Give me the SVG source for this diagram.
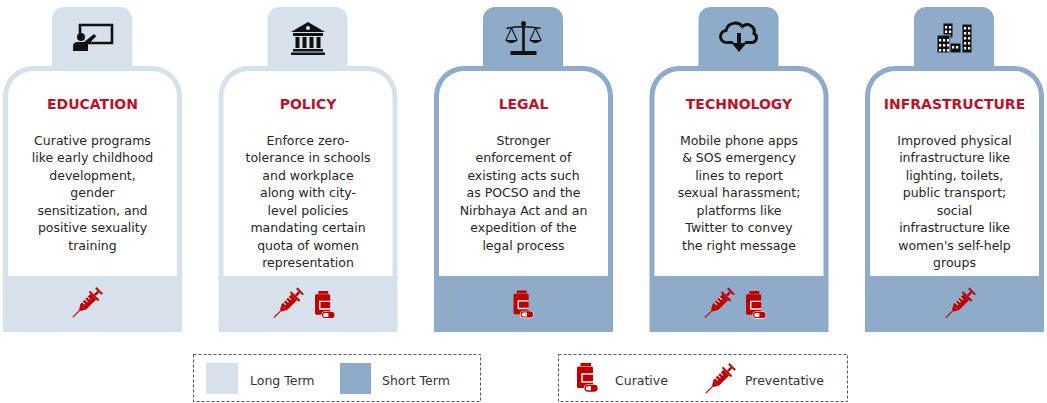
<svg xmlns="http://www.w3.org/2000/svg" xmlns:xlink="http://www.w3.org/1999/xlink" width="1047" height="403" viewBox="0 0 1047 403">
<style>
.lt{fill:#d7e1eb}
.st{fill:#8eacca}
.inner{fill:#ffffff}
.title{font-family:"DejaVu Sans",Verdana,sans-serif;font-size:14px;font-weight:bold;fill:#c0102a;text-anchor:middle}
.body{font-family:"DejaVu Sans",Verdana,sans-serif;font-size:12.5px;fill:#262626;text-anchor:middle}
.leg{font-family:"DejaVu Sans",Verdana,sans-serif;font-size:12.5px;fill:#333333}
.ico{fill:#111111}
.box{fill:none;stroke:#555555;stroke-width:1;stroke-dasharray:3 2}
</style>
<defs>
<path id="outer" d="M0 332 V96 A30 30 0 0 1 30 66 H49 V19 A12 12 0 0 1 61 7 H117 A12 12 0 0 1 129 19 V66 H149 A30 30 0 0 1 179 96 V332 Z"/>
<path id="inner" d="M5 276 V96 A25 25 0 0 1 30 71 H149 A25 25 0 0 1 174 96 V276 Z"/>
<symbol id="syr" viewBox="0 0 30 30" overflow="visible">
<g transform="rotate(-45 15 15)" fill="#c00000">
<rect x="-5" y="14.4" width="10" height="1.2"/>
<polygon points="5,13.8 9,11.5 9,18.5 5,16.2"/>
<rect x="9" y="11" width="15" height="8"/>
<rect x="12" y="11" width="1.2" height="3.5" fill="#ffffff"/>
<rect x="15.5" y="11" width="1.2" height="3.5" fill="#ffffff"/>
<rect x="19" y="11" width="1.2" height="3.5" fill="#ffffff"/>
<rect x="24" y="8.5" width="2" height="13"/>
<rect x="26" y="13.8" width="5" height="2.4"/>
<rect x="31" y="10.5" width="2" height="9"/>
</g>
</symbol>
<symbol id="bot" viewBox="0 0 20 28" overflow="visible">
<rect x="3.5" y="0" width="10.5" height="3" fill="#c00000"/>
<rect x="0" y="3.5" width="16" height="21.5" rx="1.5" fill="#c00000"/>
<path d="M16 11 H5 V19 H16" fill="none" stroke="#ffffff" stroke-width="1.4"/>
<rect x="8" y="22.5" width="12" height="5.5" rx="2.75" fill="#ffffff" stroke="#ffffff" stroke-width="2.4"/>
<rect x="8" y="22.5" width="12" height="5.5" rx="2.75" fill="#ffffff" stroke="#c00000" stroke-width="1.3"/>
<path d="M14 22.5 H17.25 A2.75 2.75 0 0 1 17.25 28 H14 Z" fill="#c00000"/>
</symbol>
</defs>

<g id="node-education" transform="translate(3,0)">
<use href="#outer" class="lt"/>
<use href="#inner" class="inner"/>
<g class="ico" transform="translate(89.5,0)">
<path d="M-12.5 36 V25 H19.5 V43 H-4.5" fill="none" stroke="#111111" stroke-width="2.6"/>
<circle cx="-11.5" cy="37" r="4"/>
<path d="M-19.5 51 V46 Q-19.5 42 -14.5 42 H-8.5 L1.5 34 L3.8 36.3 L-4.5 44.5 V51 Z"/>
</g>
<text class="title" x="89.5" y="109">EDUCATION</text>
<text class="body" x="89.5" y="144.5">Curative programs</text>
<text class="body" x="89.5" y="162">like early childhood</text>
<text class="body" x="89.5" y="179.5">development,</text>
<text class="body" x="89.5" y="197">gender</text>
<text class="body" x="89.5" y="214.5">sensitization, and</text>
<text class="body" x="89.5" y="232">positive sexuality</text>
<text class="body" x="89.5" y="249.5">training</text>
<use href="#syr" x="69" y="288" width="30" height="30"/>
</g>

<g id="node-policy" transform="translate(218.5,0)">
<use href="#outer" class="lt"/>
<use href="#inner" class="inner"/>
<g class="ico" transform="translate(89.5,0)">
<polygon points="-17,32 0,22 17,32"/>
<circle cx="0" cy="28" r="2" fill="#d7e1eb"/>
<rect x="-15" y="33" width="30" height="3"/>
<rect x="-12.5" y="37" width="4" height="11"/>
<rect x="-5.5" y="37" width="4" height="11"/>
<rect x="1.5" y="37" width="4" height="11"/>
<rect x="8.5" y="37" width="4" height="11"/>
<rect x="-15" y="49" width="30" height="2.5"/>
<rect x="-17" y="52.5" width="34" height="2.5"/>
</g>
<text class="title" x="89.5" y="109">POLICY</text>
<text class="body" x="89.5" y="144.5">Enforce zero-</text>
<text class="body" x="89.5" y="162">tolerance in schools</text>
<text class="body" x="89.5" y="179.5">and workplace</text>
<text class="body" x="89.5" y="197">along with city-</text>
<text class="body" x="89.5" y="214.5">level policies</text>
<text class="body" x="89.5" y="232">mandating certain</text>
<text class="body" x="89.5" y="249.5">quota of women</text>
<text class="body" x="89.5" y="267">representation</text>
<use href="#syr" x="54.5" y="288.5" width="30" height="30"/>
<use href="#bot" x="96.5" y="291" width="19" height="26.5"/>
</g>

<g id="node-legal" transform="translate(434,0)">
<use href="#outer" class="st"/>
<use href="#inner" class="inner"/>
<g class="ico" transform="translate(89.5,0)">
<rect x="-1.3" y="22" width="2.6" height="30"/>
<circle cx="0" cy="23.5" r="2.5"/>
<path d="M-17 29 Q0 26 17 29 L17 27.5 Q0 24.5 -17 27.5 Z"/>
<path d="M-12 28 L-17.5 40 M-12 28 L-6.5 40 M12 28 L6.5 40 M12 28 L17.5 40" stroke="#111111" stroke-width="1.1" fill="none"/>
<path d="M-18.5 40 H-5.5 Q-12 46.5 -18.5 40 Z"/>
<path d="M5.5 40 H18.5 Q12 46.5 5.5 40 Z"/>
<rect x="-13" y="51" width="26" height="4"/>
</g>
<text class="title" x="89.5" y="109">LEGAL</text>
<text class="body" x="89.5" y="144.5">Stronger</text>
<text class="body" x="89.5" y="162">enforcement of</text>
<text class="body" x="89.5" y="179.5">existing acts such</text>
<text class="body" x="89.5" y="197">as POCSO and the</text>
<text class="body" x="89.5" y="214.5">Nirbhaya Act and an</text>
<text class="body" x="89.5" y="232">expedition of the</text>
<text class="body" x="89.5" y="249.5">legal process</text>
<use href="#bot" x="79.5" y="290.5" width="19" height="26.5"/>
</g>

<g id="node-technology" transform="translate(649.5,0)">
<use href="#outer" class="st"/>
<use href="#inner" class="inner"/>
<g class="ico" transform="translate(89.5,0)">
<path d="M-7 42.5 H-12 A6 6 0 0 1 -13 30.5 A9.5 9.5 0 0 1 3.5 26.5 A7 7 0 0 1 15 33.5 A4.8 4.8 0 0 1 13 42.5 H7" fill="none" stroke="#111111" stroke-width="3" stroke-linecap="round"/>
<rect x="-2" y="33" width="4" height="11"/>
<polygon points="-7.5,43 7.5,43 0,52"/>
</g>
<text class="title" x="89.5" y="109">TECHNOLOGY</text>
<text class="body" x="89.5" y="144.5">Mobile phone apps</text>
<text class="body" x="89.5" y="162">&amp; SOS emergency</text>
<text class="body" x="89.5" y="179.5">lines to report</text>
<text class="body" x="89.5" y="197">sexual harassment;</text>
<text class="body" x="89.5" y="214.5">platforms like</text>
<text class="body" x="89.5" y="232">Twitter to convey</text>
<text class="body" x="89.5" y="249.5">the right message</text>
<use href="#syr" x="54.5" y="288.5" width="30" height="30"/>
<use href="#bot" x="96.5" y="291" width="19" height="26.5"/>
</g>

<g id="node-infrastructure" transform="translate(865,0)">
<use href="#outer" class="st"/>
<use href="#inner" class="inner"/>
<g class="ico" transform="translate(89.5,0)" stroke="#8eacca" stroke-width="1">
<rect x="-11.5" y="23" width="10" height="15"/>
<rect x="-17.5" y="35" width="13" height="18"/>
<rect x="-4.5" y="43" width="11" height="10"/>
<rect x="7.5" y="24" width="10" height="29"/>
<g fill="#ffffff" stroke="none">
<rect x="-9.5" y="26" width="2.2" height="2.5"/><rect x="-5.5" y="26" width="2.2" height="2.5"/>
<rect x="-9.5" y="30.5" width="2.2" height="2.5"/><rect x="-5.5" y="30.5" width="2.2" height="2.5"/>
<rect x="-15.5" y="39" width="2.2" height="2.5"/><rect x="-11.5" y="39" width="2.2" height="2.5"/><rect x="-7.5" y="39" width="2" height="2.5"/>
<rect x="-15.5" y="44" width="2.2" height="2.5"/><rect x="-11.5" y="44" width="2.2" height="2.5"/><rect x="-7.5" y="44" width="2" height="2.5"/>
<rect x="-15.5" y="49" width="2.2" height="2.5"/><rect x="-11.5" y="49" width="2.2" height="2.5"/><rect x="-7.5" y="49" width="2" height="2.5"/>
<rect x="-2.5" y="46" width="2.2" height="2.5"/><rect x="1.5" y="46" width="2.2" height="2.5"/>
<rect x="9.5" y="27" width="2.2" height="2.5"/><rect x="13.5" y="27" width="2.2" height="2.5"/>
<rect x="9.5" y="32" width="2.2" height="2.5"/><rect x="13.5" y="32" width="2.2" height="2.5"/>
<rect x="9.5" y="37" width="2.2" height="2.5"/><rect x="13.5" y="37" width="2.2" height="2.5"/>
<rect x="9.5" y="42" width="2.2" height="2.5"/><rect x="13.5" y="42" width="2.2" height="2.5"/>
<rect x="9.5" y="47" width="2.2" height="2.5"/><rect x="13.5" y="47" width="2.2" height="2.5"/>
</g>
</g>
<text class="title" x="89.5" y="109">INFRASTRUCTURE</text>
<text class="body" x="89.5" y="144.5">Improved physical</text>
<text class="body" x="89.5" y="162">infrastructure like</text>
<text class="body" x="89.5" y="179.5">lighting, toilets,</text>
<text class="body" x="89.5" y="197">public transport;</text>
<text class="body" x="89.5" y="214.5">social</text>
<text class="body" x="89.5" y="232">infrastructure like</text>
<text class="body" x="89.5" y="249.5">women's self-help</text>
<text class="body" x="89.5" y="267">groups</text>
<use href="#syr" x="80" y="288.5" width="30" height="30"/>
</g>

<g id="connectors"></g>

<g id="legend-term">
<rect class="box" x="193.5" y="354.5" width="287" height="47"/>
<rect class="lt" x="206" y="363" width="32" height="31"/>
<text class="leg" x="250" y="384.5">Long Term</text>
<rect class="st" x="340" y="363" width="31" height="31"/>
<text class="leg" x="382" y="384.5">Short Term</text>
</g>
<g id="legend-type">
<rect class="box" x="558.5" y="354.5" width="289" height="47"/>
<use href="#bot" x="577" y="363" width="20" height="28"/>
<text class="leg" x="615" y="384.5">Curative</text>
<use href="#syr" x="705" y="364" width="30" height="30"/>
<text class="leg" x="745" y="384.5">Preventative</text>
</g>
</svg>
